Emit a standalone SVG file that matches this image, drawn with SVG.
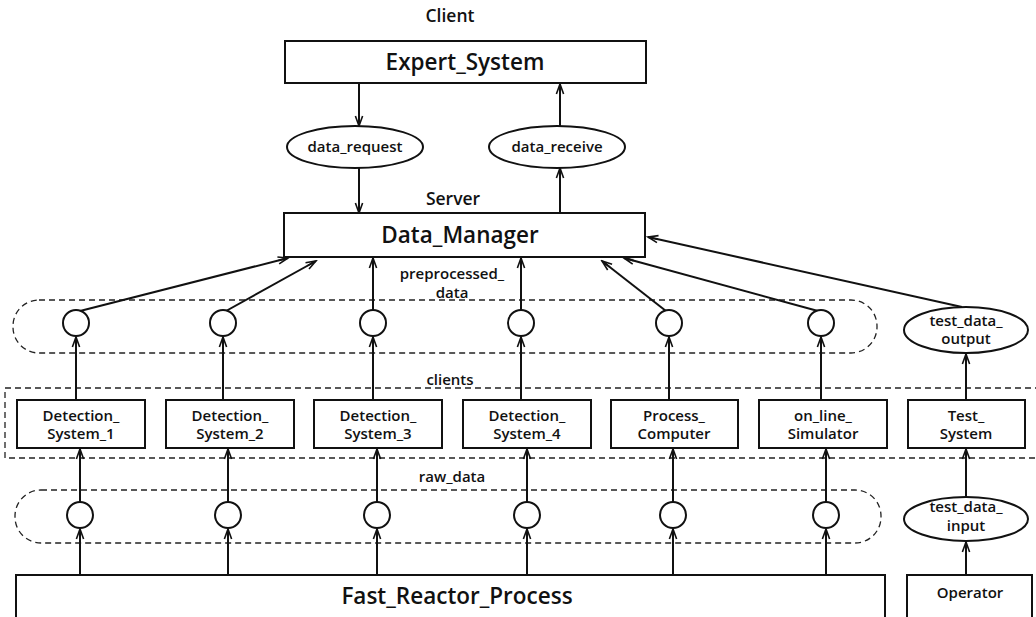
<svg xmlns="http://www.w3.org/2000/svg" width="1036" height="617" viewBox="0 0 1036 617">
  <style>
    .box { fill: #fff; stroke: #111; stroke-width: 2; }
    .port { fill: #fff; stroke: #111; stroke-width: 2; }
    .group { fill: none; stroke: #222; stroke-width: 1.3; stroke-dasharray: 6 4; }
    .link { fill: none; stroke: #111; stroke-width: 2; marker-end: url(#arrow); }
    text { font-family: "Open Sans", "Noto Sans", "Liberation Sans", sans-serif; fill: #111; text-anchor: middle; }
    .title { font-size: 22.5px; font-weight: 600; }
    .role { font-size: 17.5px; font-weight: 600; }
    .lbl { font-size: 15px; font-weight: 600; }
  </style>
  <defs>
    <marker id="arrow" markerUnits="userSpaceOnUse" markerWidth="14" markerHeight="10" viewBox="-11 -5 12 10" refX="0" refY="0" orient="auto">
      <path d="M-10,-3.6 L0,0 L-10,3.6 M-10,0 L0,0" fill="none" stroke="#111" stroke-width="1.6"/>
    </marker>
  </defs>

  <rect width="1036" height="617" fill="#fff"/>

  <!-- dashed groupings -->
  <g id="groups">
    <rect class="group" x="13" y="300" width="864" height="53" rx="26"/>
    <rect class="group" x="5" y="388" width="1045" height="70"/>
    <rect class="group" x="15" y="490" width="866" height="53" rx="26"/>
    <text class="lbl" x="452" y="279">preprocessed_</text>
    <text class="lbl" x="452" y="298">data</text>
    <text class="lbl" x="450" y="385">clients</text>
    <text class="lbl" x="452" y="482">raw_data</text>
    <text class="role" x="450" y="22">Client</text>
    <text class="role" x="453" y="205">Server</text>
  </g>

  <!-- connectors -->
  <g id="connectors">
    <line class="link" x1="359" y1="83" x2="359" y2="126"/>
    <line class="link" x1="359" y1="168" x2="359" y2="213"/>
    <line class="link" x1="560" y1="213" x2="560" y2="168"/>
    <line class="link" x1="560" y1="126" x2="560" y2="84"/>

    <line class="link" x1="80" y1="311" x2="288" y2="258"/>
    <line class="link" x1="226" y1="311" x2="316" y2="261"/>
    <line class="link" x1="373" y1="310" x2="373" y2="258"/>
    <line class="link" x1="521" y1="310" x2="521" y2="258"/>
    <line class="link" x1="666" y1="311" x2="602" y2="261"/>
    <line class="link" x1="818" y1="311" x2="624" y2="258"/>
    <line class="link" x1="962" y1="307" x2="648" y2="237"/>

    <line class="link" x1="76" y1="400" x2="76" y2="337"/>
    <line class="link" x1="223" y1="400" x2="223" y2="337"/>
    <line class="link" x1="373" y1="400" x2="373" y2="337"/>
    <line class="link" x1="521" y1="400" x2="521" y2="337"/>
    <line class="link" x1="669" y1="400" x2="669" y2="337"/>
    <line class="link" x1="821" y1="400" x2="821" y2="337"/>
    <line class="link" x1="966" y1="400" x2="966" y2="354"/>

    <line class="link" x1="80" y1="502" x2="80" y2="449"/>
    <line class="link" x1="228" y1="502" x2="228" y2="449"/>
    <line class="link" x1="377" y1="502" x2="377" y2="449"/>
    <line class="link" x1="527" y1="502" x2="527" y2="449"/>
    <line class="link" x1="673" y1="502" x2="673" y2="449"/>
    <line class="link" x1="826" y1="502" x2="826" y2="449"/>
    <line class="link" x1="966" y1="497" x2="966" y2="449"/>

    <line class="link" x1="80" y1="575" x2="80" y2="529"/>
    <line class="link" x1="228" y1="575" x2="228" y2="529"/>
    <line class="link" x1="377" y1="575" x2="377" y2="529"/>
    <line class="link" x1="527" y1="575" x2="527" y2="529"/>
    <line class="link" x1="673" y1="575" x2="673" y2="529"/>
    <line class="link" x1="826" y1="575" x2="826" y2="529"/>
    <line class="link" x1="966" y1="575" x2="966" y2="542"/>
  </g>

  <!-- server / client -->
  <g id="expert_system">
    <rect class="box" x="285" y="41" width="361" height="42"/>
    <text class="title" x="465" y="70">Expert_System</text>
  </g>
  <g id="data_request">
    <ellipse class="port" cx="355" cy="147" rx="68" ry="21"/>
    <text class="lbl" x="355" y="152">data_request</text>
  </g>
  <g id="data_receive">
    <ellipse class="port" cx="557" cy="147" rx="68" ry="21"/>
    <text class="lbl" x="557" y="152">data_receive</text>
  </g>
  <g id="data_manager">
    <rect class="box" x="284" y="213" width="361" height="44"/>
    <text class="title" x="460" y="243">Data_Manager</text>
  </g>

  <!-- preprocessed data ports -->
  <g id="pre_ports">
    <circle class="port" cx="76" cy="323" r="13"/>
    <circle class="port" cx="223" cy="323" r="13"/>
    <circle class="port" cx="373" cy="323" r="13"/>
    <circle class="port" cx="521" cy="323" r="13"/>
    <circle class="port" cx="669" cy="323" r="13"/>
    <circle class="port" cx="821" cy="323" r="13"/>
  </g>
  <g id="test_data_output">
    <ellipse class="port" cx="966" cy="330" rx="62" ry="23"/>
    <text class="lbl" x="966" y="326">test_data_</text>
    <text class="lbl" x="966" y="344">output</text>
  </g>

  <!-- clients -->
  <g id="detection_system_1">
    <rect class="box" x="17" y="400" width="128" height="48"/>
    <text class="lbl" x="81" y="421">Detection_</text>
    <text class="lbl" x="81" y="439">System_1</text>
  </g>
  <g id="detection_system_2">
    <rect class="box" x="166" y="400" width="128" height="48"/>
    <text class="lbl" x="230" y="421">Detection_</text>
    <text class="lbl" x="230" y="439">System_2</text>
  </g>
  <g id="detection_system_3">
    <rect class="box" x="314" y="400" width="128" height="48"/>
    <text class="lbl" x="378" y="421">Detection_</text>
    <text class="lbl" x="378" y="439">System_3</text>
  </g>
  <g id="detection_system_4">
    <rect class="box" x="463" y="400" width="128" height="48"/>
    <text class="lbl" x="527" y="421">Detection_</text>
    <text class="lbl" x="527" y="439">System_4</text>
  </g>
  <g id="process_computer">
    <rect class="box" x="611" y="400" width="127" height="48"/>
    <text class="lbl" x="674" y="421">Process_</text>
    <text class="lbl" x="674" y="439">Computer</text>
  </g>
  <g id="on_line_simulator">
    <rect class="box" x="759" y="400" width="128" height="48"/>
    <text class="lbl" x="823" y="421">on_line_</text>
    <text class="lbl" x="823" y="439">Simulator</text>
  </g>
  <g id="test_system">
    <rect class="box" x="908" y="400" width="117" height="48"/>
    <text class="lbl" x="966" y="421">Test_</text>
    <text class="lbl" x="966" y="439">System</text>
  </g>

  <!-- raw data ports -->
  <g id="raw_ports">
    <circle class="port" cx="80" cy="515" r="13"/>
    <circle class="port" cx="228" cy="515" r="13"/>
    <circle class="port" cx="377" cy="515" r="13"/>
    <circle class="port" cx="527" cy="515" r="13"/>
    <circle class="port" cx="673" cy="515" r="13"/>
    <circle class="port" cx="826" cy="515" r="13"/>
  </g>
  <g id="test_data_input">
    <ellipse class="port" cx="966" cy="519" rx="62" ry="22"/>
    <text class="lbl" x="966" y="512">test_data_</text>
    <text class="lbl" x="966" y="531">input</text>
  </g>

  <!-- sources -->
  <g id="fast_reactor_process">
    <rect class="box" x="16" y="575" width="869" height="60"/>
    <text class="title" x="457" y="604">Fast_Reactor_Process</text>
  </g>
  <g id="operator">
    <rect class="box" x="907" y="575" width="125" height="60"/>
    <text class="lbl" x="970" y="598">Operator</text>
  </g>
</svg>
